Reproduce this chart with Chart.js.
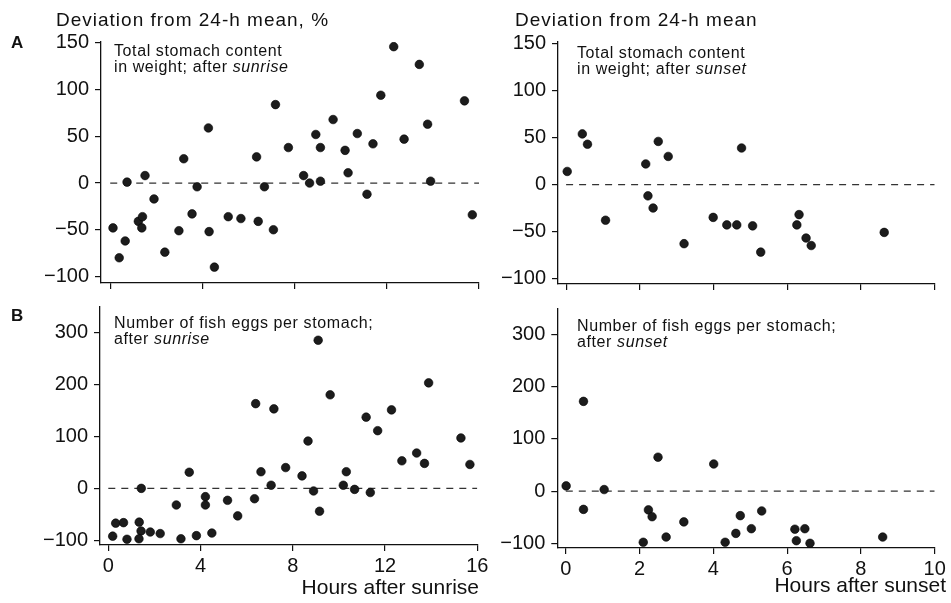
<!DOCTYPE html>
<html>
<head>
<meta charset="utf-8">
<script src="https://cdn.jsdelivr.net/npm/chart.js@4.4.0/dist/chart.umd.min.js"></script>
<style>
html, body { margin: 0; padding: 0; background: #fff; }
body { width: 951px; height: 603px; position: relative; overflow: hidden; }
canvas { position: absolute; }
</style>
</head>
<body>
<canvas id="weightSunrise"></canvas>
<canvas id="weightSunset"></canvas>
<canvas id="eggsSunrise"></canvas>
<canvas id="eggsSunset"></canvas>
<script>
// A, left: total stomach content in weight after sunrise (% deviation)
var weightSunriseHours = [0.12, 0.39, 0.65, 0.73, 1.22, 1.40, 1.37, 1.51, 1.90, 2.37, 2.98, 3.19, 3.55, 3.77, 4.26,
    4.29, 4.52, 5.12, 5.67, 6.35, 6.42, 6.69, 7.17, 7.08, 7.73, 8.39, 8.65, 8.92, 9.12, 9.12, 9.67, 10.19, 10.32,
    10.72, 11.14, 11.40, 11.74, 12.30, 12.75, 13.41, 13.77, 13.90, 15.37, 15.71];
var weightSunriseDev = [-48, -80, -62, 1, -41, -36, -48, 8, -17, -74, -51, 26, -33, -4, 59,
    -52, -90, -36, -38, 28, -41, -4, 84, -50, 38, 8, 0, 52, 38, 2, 68, 35, 11,
    53, -12, 42, 94, 146, 47, 127, 63, 2, 88, -34];

// A, right: total stomach content in weight after sunset
var weightSunsetHours = [0.03, 0.44, 0.58, 1.07, 2.16, 2.22, 2.36, 2.50, 2.77, 3.20, 3.99, 4.36, 4.63, 4.76,
    5.06, 5.28, 6.26, 6.32, 6.51, 6.65, 8.63];
var weightSunsetDev = [14, 54, 43, -38, 22, -12, -25, 46, 30, -63, -35, -43, -43, 39,
    -44, -72, -43, -32, -57, -65, -51];

// B, left: number of fish eggs per stomach after sunrise
var eggsSunriseHours = [0.19, 0.32, 0.66, 0.81, 1.34, 1.42, 1.33, 1.43, 1.82, 2.25, 2.95, 3.15, 3.51, 3.82, 4.21,
    4.21, 4.49, 5.17, 5.61, 6.34, 6.39, 6.62, 7.06, 7.18, 7.69, 8.40, 8.66, 8.90, 9.10, 9.16, 9.62, 10.19, 10.32,
    10.68, 11.18, 11.36, 11.68, 12.28, 12.73, 13.37, 13.71, 13.89, 15.29, 15.68];
var eggsSunriseDev = [-92, -67, -66, -98, -65, -82, -97, 0, -84, -87, -32, -97, 31, -91, -16,
    -32, -86, -23, -53, -20, 163, 32, 6, 153, 40, 24, 91, -5, 285, -44, 180, 6, 32,
    -2, 137, -8, 111, 151, 53, 68, 48, 203, 97, 46];

// B, right: number of fish eggs per stomach after sunset
var eggsSunsetHours = [0.01, 0.48, 0.48, 1.04, 2.10, 2.24, 2.34, 2.50, 2.72, 3.20, 4.01, 4.32, 4.61, 4.73,
    5.03, 5.31, 6.21, 6.25, 6.48, 6.62, 8.59];
var eggsSunsetDev = [10, 172, -35, 3, -98, -36, -49, 65, -88, -59, 52, -98, -81, -47,
    -72, -38, -73, -95, -72, -100, -88];

// tick labels
var sunriseTicks = [0, 4, 8, 12, 16];
var sunsetTicks = [0, 2, 4, 6, 8, 10];
var weightTicks = [-100, -50, 0, 50, 100, 150];
var eggTicks = [-100, 0, 100, 200, 300];

var FAMILY = '"Liberation Sans", Arial, Helvetica, sans-serif';
var INK = '#111';

var notesPlugin = {
    id: 'notes',
    afterDraw: function (chart, args, opts) {
        var ctx = chart.ctx;
        (opts.items || []).forEach(function (it) {
            ctx.save();
            ctx.fillStyle = INK;
            ctx.textBaseline = 'alphabetic';
            ctx.textAlign = 'left';
            if ('letterSpacing' in ctx) ctx.letterSpacing = (it.ls || 0) + 'px';
            var fonts = it.segs.map(function (s) {
                return (s.i ? 'italic ' : '') + (it.bold ? 'bold ' : '') + it.size + 'px ' + FAMILY;
            });
            var x = it.x;
            if (it.align === 'right') {
                var total = 0;
                it.segs.forEach(function (s, k) { ctx.font = fonts[k]; total += ctx.measureText(s.t).width; });
                x -= total;
            }
            it.segs.forEach(function (s, k) {
                ctx.font = fonts[k];
                ctx.fillText(s.t, x, it.y);
                x += ctx.measureText(s.t).width;
            });
            ctx.restore();
        });
    }
};

function makePanel(id, box, area, xRange, xTicks, showXLabels, yRange, yTicks, hours, dev, notes) {
    var canvas = document.getElementById(id);
    canvas.width = box.w;
    canvas.height = box.h;
    canvas.style.left = box.left + 'px';
    canvas.style.top = box.top + 'px';

    var items = notes.map(function (n) {
        return Object.assign({}, n, { x: n.x - box.left, y: n.y - box.top });
    });

    var points = hours.map(function (h, i) { return { x: h, y: dev[i] }; });

    new Chart(canvas, {
        type: 'scatter',
        data: {
            datasets: [{
                data: points,
                pointRadius: 4.3,
                pointBackgroundColor: '#1c1c1c',
                pointBorderColor: '#000',
                pointBorderWidth: 0.6
            }, {
                data: [{ x: 0, y: 0 }, { x: xRange[1], y: 0 }],
                showLine: true,
                borderColor: '#333',
                borderWidth: 1.2,
                borderDash: [7, 6],
                pointRadius: 0
            }]
        },
        options: {
            responsive: false,
            animation: false,
            layout: {
                padding: {
                    left: 0,
                    bottom: 0,
                    top: area.t - box.top,
                    right: box.left + box.w - area.r
                }
            },
            plugins: {
                legend: { display: false },
                tooltip: { enabled: false },
                notes: { items: items }
            },
            scales: {
                x: {
                    type: 'linear',
                    min: xRange[0],
                    max: xRange[1],
                    afterBuildTicks: function (scale) {
                        scale.ticks = xTicks.map(function (v) { return { value: v }; });
                    },
                    afterFit: function (scale) {
                        scale.height = box.top + box.h - area.b;
                        scale.paddingLeft = 0;
                        scale.paddingRight = 0;
                    },
                    border: { display: true, color: INK, width: 1.3 },
                    grid: { drawOnChartArea: false, drawTicks: true, tickLength: 6, color: INK, lineWidth: 1.2 },
                    ticks: {
                        display: showXLabels,
                        color: INK,
                        padding: 3,
                        maxRotation: 0,
                        font: { family: FAMILY, size: 20 }
                    }
                },
                y: {
                    type: 'linear',
                    min: yRange[0],
                    max: yRange[1],
                    afterBuildTicks: function (scale) {
                        scale.ticks = yTicks.map(function (v) { return { value: v }; });
                    },
                    afterFit: function (scale) {
                        scale.width = area.l - box.left;
                        scale.paddingTop = 0;
                        scale.paddingBottom = 0;
                    },
                    border: { display: true, color: INK, width: 1.3 },
                    grid: { drawOnChartArea: false, drawTicks: true, tickLength: 6, color: INK, lineWidth: 1.2 },
                    ticks: {
                        color: INK,
                        padding: 6,
                        font: { family: FAMILY, size: 20 },
                        callback: function (v) { return String(v).replace('-', '\u2212'); }
                    }
                }
            }
        },
        plugins: [notesPlugin]
    });
}

makePanel('weightSunrise',
    { left: 0, top: 0, w: 490, h: 300 },
    { l: 101, r: 479, t: 42, b: 283 },
    [-0.4, 16], sunriseTicks, false,
    [-107, 151], weightTicks,
    weightSunriseHours, weightSunriseDev,
    [
        { x: 56, y: 26, size: 19, ls: 1, segs: [{ t: 'Deviation from 24-h mean, %' }] },
        { x: 11, y: 48, size: 17, bold: true, segs: [{ t: 'A' }] },
        { x: 114, y: 56, size: 16, ls: 0.6, segs: [{ t: 'Total stomach content' }] },
        { x: 114, y: 72, size: 16, ls: 0.6, segs: [{ t: 'in weight; after ' }, { t: 'sunrise', i: true }] }
    ]);

makePanel('weightSunset',
    { left: 480, top: 0, w: 471, h: 300 },
    { l: 558, r: 934.7, t: 42, b: 284 },
    [-0.22, 10], sunsetTicks, false,
    [-106, 152], weightTicks,
    weightSunsetHours, weightSunsetDev,
    [
        { x: 515, y: 26, size: 19, ls: 1, segs: [{ t: 'Deviation from 24-h mean' }] },
        { x: 577, y: 58, size: 16, ls: 0.6, segs: [{ t: 'Total stomach content' }] },
        { x: 577, y: 74, size: 16, ls: 0.6, segs: [{ t: 'in weight; after ' }, { t: 'sunset', i: true }] }
    ]);

makePanel('eggsSunrise',
    { left: 0, top: 290, w: 500, h: 313 },
    { l: 100, r: 477.3, t: 307, b: 545 },
    [-0.36, 16], sunriseTicks, true,
    [-109, 349], eggTicks,
    eggsSunriseHours, eggsSunriseDev,
    [
        { x: 11, y: 321, size: 17, bold: true, segs: [{ t: 'B' }] },
        { x: 114, y: 328, size: 16, ls: 0.6, segs: [{ t: 'Number of fish eggs per stomach;' }] },
        { x: 114, y: 344, size: 16, ls: 0.6, segs: [{ t: 'after ' }, { t: 'sunrise', i: true }] },
        { x: 479, y: 594, size: 21, align: 'right', segs: [{ t: 'Hours after sunrise' }] }
    ]);

makePanel('eggsSunset',
    { left: 480, top: 290, w: 471, h: 313 },
    { l: 557.3, r: 934.7, t: 309, b: 548 },
    [-0.23, 10], sunsetTicks, true,
    [-109, 349], eggTicks,
    eggsSunsetHours, eggsSunsetDev,
    [
        { x: 577, y: 331, size: 16, ls: 0.6, segs: [{ t: 'Number of fish eggs per stomach;' }] },
        { x: 577, y: 347, size: 16, ls: 0.6, segs: [{ t: 'after ' }, { t: 'sunset', i: true }] },
        { x: 946, y: 592, size: 21, align: 'right', segs: [{ t: 'Hours after sunset' }] }
    ]);
</script>
</body>
</html>
